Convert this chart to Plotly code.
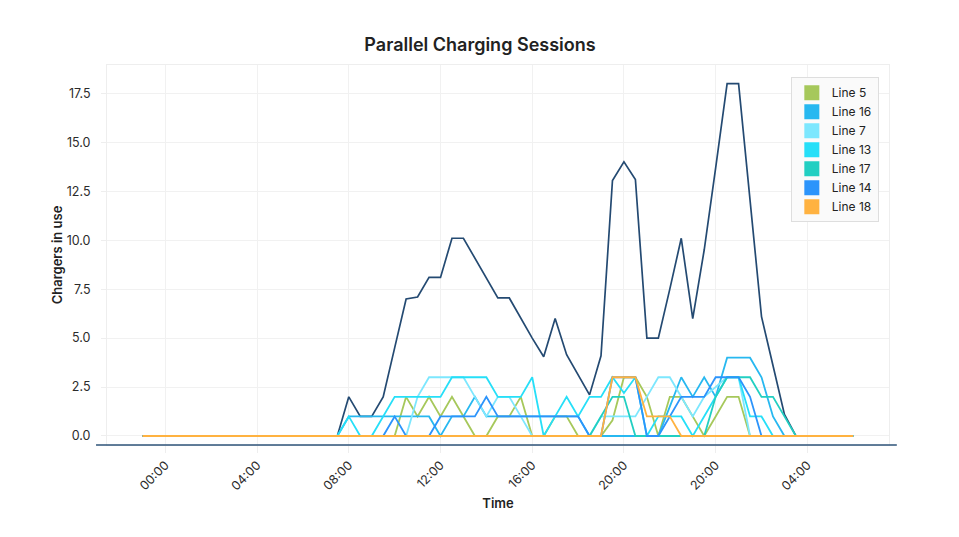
import plotly.graph_objects as go

# time in hours (0 = 00:00 of first day), 30-minute resolution
hours = [-1, 7.5, 8, 8.5, 9, 9.5, 10, 10.5, 11, 11.5, 12, 12.5, 13, 13.5, 14, 14.5,
         15, 15.5, 16, 16.5, 17, 17.5, 18, 18.5, 19, 19.5, 20, 20.5, 21, 21.5, 22,
         22.5, 23, 23.5, 24, 24.5, 25, 25.5, 26, 26.5, 27, 27.5, 28, 30]

total = [0, 0, 2, 1, 1, 2, 4.5, 7, 7.1, 8.1, 8.1, 10.1, 10.1, 9.1, 8.1, 7.05,
         7.05, 6, 5, 4.05, 6, 4.15, 3.1, 2.1, 4.1, 13.05, 14, 13.1, 5, 5, 7.5,
         10.1, 6, 9.5, 13.7, 18, 18, 12, 6.1, 3.6, 1.1, 0, 0, 0]
line5 = [0, 0, 0, 0, 0, 0, 0, 2, 1, 2, 1, 2, 1, 0, 0, 1,
         1, 2, 0, 0, 1, 1, 0, 0, 0, 0.8, 3, 3, 2, 0, 2,
         2, 1, 0, 1, 2, 2, 0, 0, 0, 0, 0, 0, 0]
line16 = [0, 0, 1, 1, 1, 1, 1, 1, 1, 1, 0, 1, 1, 2, 1, 1,
          1, 1, 1, 1, 1, 1, 1, 0, 0, 0, 0, 0, 0, 0, 1.5,
          3, 2, 3, 2, 4, 4, 4, 3, 1, 0, 0, 0, 0]
line7 = [0, 0, 0, 0, 0, 0, 0, 0, 2, 3, 3, 3, 3, 2, 1, 2,
         2, 1, 0, 0, 0, 0, 0, 0, 1, 1, 1, 1, 2, 3, 3,
         2, 1, 2, 2.5, 3, 3, 0, 0, 0, 0, 0, 0, 0]
line13 = [0, 0, 1, 0, 0, 1, 2, 2, 2, 2, 2, 3, 3, 3, 3, 2,
          2, 2, 3, 0, 1, 2, 1, 2, 2, 3, 2.2, 3, 0, 1, 1,
          1, 0, 1, 2, 3, 3, 1, 1, 0, 0, 0, 0, 0]
line17 = [0, 0, 0, 0, 0, 0, 0, 0, 0, 0, 0, 0, 0, 0, 0, 0,
          0, 0, 0, 0, 0, 0, 0, 0, 1, 2, 2, 0, 0, 0, 0,
          0, 0, 0, 2, 3, 3, 3, 2, 2, 1, 0, 0, 0]
line14 = [0, 0, 0, 0, 0, 0, 1, 0, 0, 0, 1, 1, 1, 1, 2, 1,
          1, 1, 1, 1, 1, 1, 1, 0, 0, 3, 3, 3, 0, 0, 1,
          2, 2, 2, 3, 3, 3, 2, 0, 0, 0, 0, 0, 0]
line18 = [0, 0, 0, 0, 0, 0, 0, 0, 0, 0, 0, 0, 0, 0, 0, 0,
          0, 0, 0, 0, 0, 0, 0, 0, 0, 3, 3, 3, 1, 1, 1,
          0, 0, 0, 0, 0, 0, 0, 0, 0, 0, 0, 0, 0]

series_names = ["Line 5", "Line 16", "Line 7", "Line 13", "Line 17", "Line 14", "Line 18"]
series_values = [line5, line16, line7, line13, line17, line14, line18]
series_colors = ["#A6C85B", "#27B8F0", "#7DE7FE", "#26DFF8", "#22CFC2", "#2C94FB", "#FFB240"]

tick_vals = [0, 4, 8, 12, 16, 20, 24, 28]
tick_text = ["00:00", "04:00", "08:00", "12:00", "16:00", "20:00", "20:00", "04:00"]

FONT = "Inter, Lato, sans-serif"
GRID = "#f1f1f1"
W, H = 959, 537
OFF = 8  # page body offset of the figure

fig = go.Figure()

fig.add_trace(go.Scatter(x=hours, y=total, mode="lines", name="Total",
                         line=dict(color="#244A72", width=1.7), showlegend=False,
                         hoverinfo="skip"))

for name, vals, col in zip(series_names, series_values, series_colors):
    fig.add_trace(go.Scatter(x=hours, y=vals, mode="lines", name=name,
                             line=dict(color=col, width=1.8), showlegend=False,
                             legendgroup=name))

# legend entries as square swatches
for name, col in zip(series_names, series_colors):
    fig.add_trace(go.Scatter(x=[None], y=[None], mode="markers", name=name,
                             legendgroup=name,
                             marker=dict(symbol="square", size=15, color=col,
                                         line=dict(width=0))))

plot_l, plot_t, plot_w, plot_h = 107 - OFF, 65 - OFF, 781.6, 380
fig.update_layout(
    width=W, height=H,
    paper_bgcolor="white", plot_bgcolor="white",
    margin=dict(l=plot_l, r=W - plot_l - plot_w, t=plot_t, b=H - plot_t - plot_h),
    font=dict(family=FONT, size=12, color="#2b2b2b"),
    title=dict(text="Parallel Charging Sessions", x=(480 - OFF) / W, xref="container",
               y=1 - (45 - OFF) / H, yref="container", xanchor="center", yanchor="middle",
               font=dict(family=FONT, size=18, color="#222222", weight=600)),
    showlegend=True,
    legend=dict(x=0.987, y=0.968, xanchor="right", yanchor="top",
                bgcolor="#fafafa", bordercolor="#dedede", borderwidth=1,
                font=dict(family=FONT, size=12, color="#222222"),
                itemsizing="trace", tracegroupgap=0),
    xaxis=dict(range=[-2.545, 31.56], tickvals=tick_vals, ticktext=tick_text,
               tickangle=-45, showgrid=True, gridcolor=GRID, zeroline=False,
               ticks="outside", ticklen=7, tickcolor="#eeeeee",
               showline=True, mirror=True, linecolor="#eeeeee",
               tickfont=dict(family=FONT, size=12.5, color="#2b2b2b"),
               title=dict(text="Time", font=dict(family=FONT, size=13, color="#222222",
                                                 weight=600), standoff=6)),
    yaxis=dict(range=[-0.46, 18.95], dtick=2.5, tick0=0, tickformat=".1f",
               showgrid=True, gridcolor=GRID, zeroline=False,
               ticks="outside", ticklen=5, tickcolor="#eeeeee", ticklabelstandoff=8,
               showline=True, mirror=True, linecolor="#eeeeee",
               tickfont=dict(family=FONT, size=12.5, color="#2b2b2b"),
               title=dict(text="Chargers in use", font=dict(family=FONT, size=13,
                                                            color="#222222", weight=600),
                          standoff=1)),
)

# dark baseline under the plot
fig.add_shape(type="line", xref="paper", yref="paper", x0=-0.014, x1=1.01, y0=0, y1=0,
              line=dict(color="#2E5378", width=1.6), layer="above")

fig.write_html("out.html")
